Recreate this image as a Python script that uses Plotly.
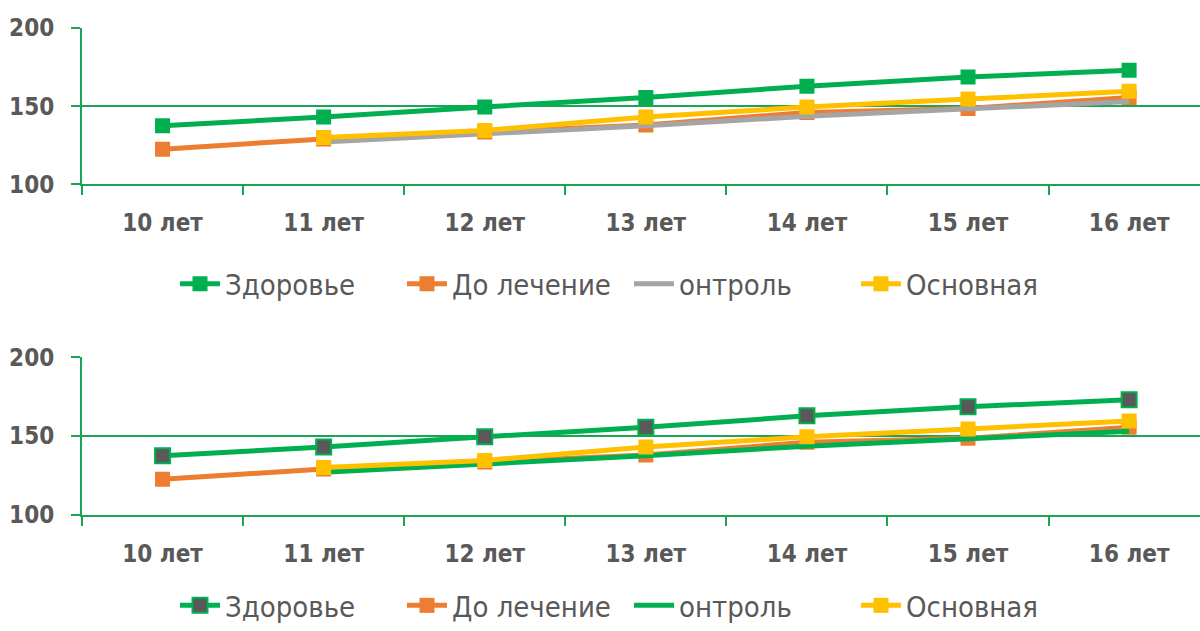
import plotly.graph_objects as go
from plotly.subplots import make_subplots

# Age groups and mean values per group
categories = ["10 лет", "11 лет", "12 лет", "13 лет", "14 лет", "15 лет", "16 лет"]
zdorovye = [137.5, 143.0, 149.5, 155.5, 162.8, 168.6, 173.0]
do_lechenie = [122.5, 129.0, 133.5, 138.0, 146.0, 148.5, 155.5]
kontrol = [None, 127.0, 132.0, 137.5, 143.5, 148.5, 153.0]
osnovnaya = [None, 130.0, 134.5, 143.0, 149.5, 154.5, 159.5]
y_ticks = [100, 150, 200]

GREEN = "#00B050"
AXIS_GREEN = "#1CA455"
ORANGE = "#ED7D31"
GRAY = "#A5A5A5"
YELLOW = "#FFC000"
DARK = "#595959"
TEXT = "#595959"
FONT = "DejaVu Sans Condensed, Liberation Sans Narrow, Roboto, sans-serif"

fig = make_subplots(rows=2, cols=1, shared_xaxes=False)


def add_series(row, legend, health_marker, control_color):
    fig.add_trace(go.Scatter(
        x=categories, y=zdorovye, name="Здоровье", mode="lines+markers",
        line=dict(color=GREEN, width=5),
        marker=dict(symbol="square", size=15, color=health_marker,
                    line=dict(color=GREEN, width=2 if health_marker != GREEN else 0)),
        legend=legend), row=row, col=1)
    fig.add_trace(go.Scatter(
        x=categories, y=do_lechenie, name="До лечение", mode="lines+markers",
        line=dict(color=ORANGE, width=5),
        marker=dict(symbol="square", size=15, color=ORANGE),
        legend=legend), row=row, col=1)
    fig.add_trace(go.Scatter(
        x=categories, y=kontrol, name="онтроль", mode="lines",
        line=dict(color=control_color, width=5),
        legend=legend), row=row, col=1)
    fig.add_trace(go.Scatter(
        x=categories, y=osnovnaya, name="Основная", mode="lines+markers",
        line=dict(color=YELLOW, width=5),
        marker=dict(symbol="square", size=15, color=YELLOW),
        legend=legend), row=row, col=1)


add_series(1, "legend", GREEN, GRAY)
add_series(2, "legend2", DARK, GREEN)

H = 631.0


def py(px):
    return 1 - px / H


domains = [(py(184.3), py(28)), (py(514.7), py(357.3))]

for i, dom in enumerate(domains, start=1):
    fig.update_xaxes(
        row=i, col=1, type="category", range=[-0.5, 6.44], automargin=False,
        showline=True, linecolor=AXIS_GREEN, linewidth=2,
        ticks="outside", tickson="boundaries", ticklen=9, tickwidth=2,
        tickcolor=AXIS_GREEN, showgrid=False, ticklabelstandoff=16,
        tickfont=dict(family=FONT, size=24, color=TEXT, weight="bold"),
        fixedrange=True)
    fig.update_yaxes(
        row=i, col=1, range=[100, 200], domain=list(dom), tickvals=y_ticks,
        automargin=False,
        showline=True, linecolor=AXIS_GREEN, linewidth=2,
        ticks="outside", ticklen=9, tickwidth=2, tickcolor=AXIS_GREEN,
        showgrid=True, gridcolor=AXIS_GREEN, gridwidth=1.5, zeroline=False,
        ticklabelstandoff=12,
        tickfont=dict(family=FONT, size=24, color=TEXT, weight="bold"))

legend_style = dict(orientation="h", xanchor="left",
                    font=dict(family=FONT, size=29, color=TEXT),
                    bgcolor="rgba(0,0,0,0)", itemwidth=40,
                    entrywidth=172, entrywidthmode="pixels")

fig.update_layout(
    width=1200, height=631,
    margin=dict(l=82, r=0, t=0, b=0),
    paper_bgcolor="white", plot_bgcolor="white",
    showlegend=True,
    legend=dict(legend_style, x=(175 - 82) / 1118, y=py(284), yanchor="middle"),
    legend2=dict(legend_style, x=(175 - 82) / 1118, y=0, yanchor="bottom"),
)

fig.write_html("out.html")
